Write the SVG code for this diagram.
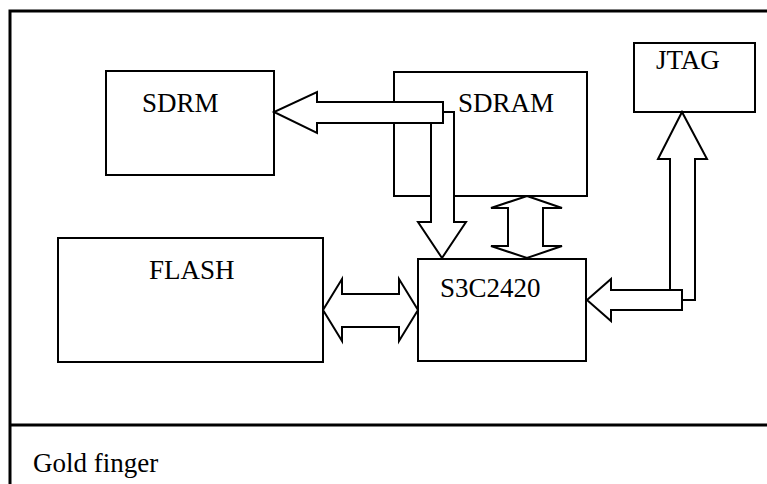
<svg xmlns="http://www.w3.org/2000/svg" width="767" height="484" viewBox="0 0 767 484">
<style>
.box{fill:#fff;stroke:#000;stroke-width:2}
.arr{fill:#fff;stroke:#000;stroke-width:2;stroke-linejoin:miter}
.t{font-family:"Liberation Serif","Times New Roman",serif;font-size:27px;fill:#000}
</style>
<rect x="0" y="0" width="767" height="484" fill="#fff"/>
<g id="frame">
<path d="M10,484 L10,11 L767,11" fill="none" stroke="#000" stroke-width="3"/>
<line x1="10" y1="425" x2="767" y2="425" stroke="#000" stroke-width="3"/>
<text class="t" x="33" y="472" font-size="26">Gold finger</text>
</g>
<g id="sdrm"><rect class="box" x="106" y="71" width="168" height="104"/><text class="t" x="142" y="112">SDRM</text></g>
<g id="sdram"><rect class="box" x="394" y="72" width="193" height="124"/><text class="t" x="458" y="112">SDRAM</text></g>
<g id="jtag"><rect class="box" x="634" y="43" width="121" height="69"/><text class="t" x="656" y="69">JTAG</text></g>
<g id="flash"><rect class="box" x="58" y="238" width="265" height="124"/><text class="t" x="149" y="279">FLASH</text></g>
<g id="s3c2420"><rect class="box" x="418" y="259" width="168" height="102"/><text class="t" x="440" y="297">S3C2420</text></g>
<g id="connectors">
<polygon class="arr" points="431,112 454,112 454,222 466,222 442,258 418,222 431,222"/>
<polygon class="arr" points="443,102 443,123 317,123 317,133 274,112 317,92 317,102"/>
<polygon class="arr" points="527,196 562,208 543,208 543,246 562,246 527,258 491,246 508,246 508,208 491,208"/>
<polygon class="arr" points="323,310 342,279 342,294 399,294 399,279 418,310 399,341 399,327 342,327 342,341"/>
<polygon class="arr" points="670,300 695,300 695,159 707,159 682,112 658,159 670,159"/>
<polygon class="arr" points="682,290 682,310 611,310 611,321 587,300 611,279 611,290"/>
</g>
</svg>
